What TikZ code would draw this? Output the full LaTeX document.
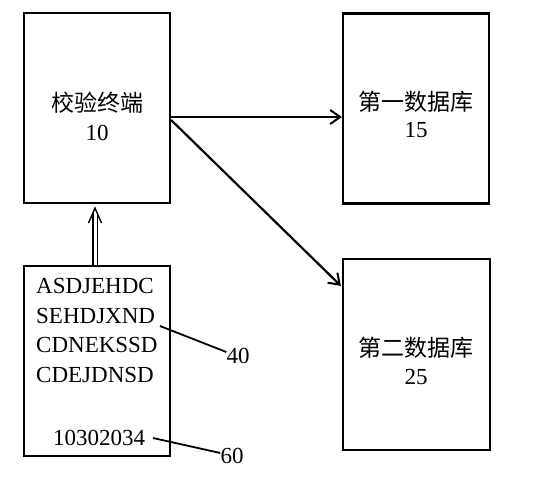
\documentclass[tikz,border=0pt]{standalone}
\usepackage{fontspec}
\setmainfont{Liberation Serif}
\newfontfamily\cjk{Noto Sans CJK SC}
\usetikzlibrary{arrows.meta}
\begin{document}
\begin{tikzpicture}[x=1pt,y=-1pt,
  box/.style={draw, line width=2.2pt, minimum width=146pt, minimum height=190pt, inner sep=0pt},
  txt/.style={inner sep=0pt, font=\fontsize{23}{29}\selectfont},
  arr/.style={line width=2.2pt, -{Straight Barb[length=10pt,width=14pt,line width=2pt]}},
  lead/.style={line width=1.8pt}]
\useasboundingbox (0,0) rectangle (554,487);
\node[box] (b1) at (97,108) {};
\node[box] (b2) at (416,108.5) {};
\node[box, minimum width=147pt, minimum height=191pt] (b3) at (416.5,354.5) {};
\node[box] (b4) at (97,361) {};
% texts
\node[txt] (t1a) at (97,103) {\cjk 校验终端};
\node[txt] (t1b) at (97,133) {10};
\node[txt] (t2a) at (416,102) {\cjk 第一数据库};
\node[txt] (t2b) at (416,130) {15};
\node[txt] (t3a) at (416,348) {\cjk 第二数据库};
\node[txt] (t3b) at (416,377) {25};
\node[txt, anchor=base west] (c1) at (36,293) {ASDJEHDC};
\node[txt, anchor=base west] (c2) at (36,323) {SEHDJXND};
\node[txt, anchor=base west] (c3) at (36,352) {CDNEKSSD};
\node[txt, anchor=base west] (c4) at (36,382) {CDEJDNSD};
\node[txt, anchor=base west] (c5) at (53,445) {10302034};
\node[txt] (l40) at (238,356) {40};
\node[txt] (l60) at (232,456) {60};
% connectors
\draw[arr] ([yshift=-9pt]b1.east) -- ([yshift=-8.5pt]b2.west);
\draw[arr] ([yshift=-12pt]b1.east) -- ([xshift=-1pt,yshift=-28pt]b3.north west);
\coordinate (tip) at ([xshift=-2pt,yshift=-4pt]b1.south);
\draw[line width=1.3pt, double, double distance=3pt] ([xshift=-2pt]b4.north) -- ([yshift=-5pt]tip);
\draw[line width=1.4pt, line join=miter] ([xshift=-6.5pt,yshift=-15pt]tip) -- (tip) -- ([xshift=6.5pt,yshift=-15pt]tip);
\coordinate (p40) at (160,326);
\coordinate (p60) at (153,438);
\draw[lead] (p40) -- (l40.west |- 0,352);
\draw[lead] (p60) -- (l60.west |- 0,453);
\end{tikzpicture}
\end{document}
